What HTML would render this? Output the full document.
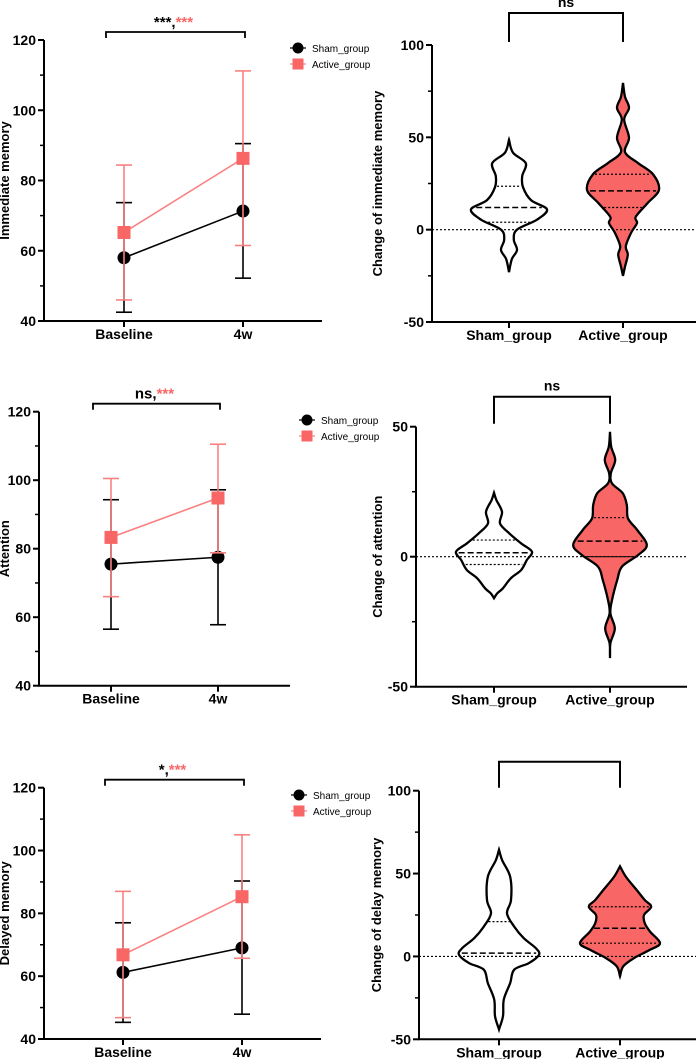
<!DOCTYPE html>
<html><head><meta charset="utf-8"><style>
html,body{margin:0;padding:0;background:#fff}
svg{display:block;font-family:"Liberation Sans",Arial,sans-serif}
</style></head><body>
<svg id="fig" width="700" height="1059" viewBox="0 0 700 1059" xmlns="http://www.w3.org/2000/svg"></svg>
<script>
// ---------- DATA ----------
const lineCategories = ["Baseline", "4w"];
const lineSeriesNames = ["Sham_group", "Active_group"];
// Immediate memory
const immShamMean = [58.0, 71.3];
const immShamLo = [42.5, 52.2];
const immShamHi = [73.7, 90.5];
const immActMean = [65.2, 86.3];
const immActLo = [46.0, 61.5];
const immActHi = [84.4, 111.2];
// Attention
const attShamMean = [75.5, 77.5];
const attShamLo = [56.5, 57.8];
const attShamHi = [94.3, 97.2];
const attActMean = [83.3, 94.8];
const attActLo = [66.0, 78.8];
const attActHi = [100.5, 110.5];
// Delayed memory
const delShamMean = [61.2, 69.0];
const delShamLo = [45.3, 47.9];
const delShamHi = [77.0, 90.3];
const delActMean = [66.8, 85.3];
const delActLo = [46.8, 65.7];
const delActHi = [87.0, 105.0];
const lineTicks = [40, 60, 80, 100, 120];

const violinCategories = ["Sham_group", "Active_group"];
// Change of immediate memory: value levels and relative density
const vImmShamVals = [48.7, 41.7, 36, 29, 23, 16, 11, 5.4, 0, -5.4, -11, -16, -23];
const vImmShamDens = [0, 0.1, 0.42, 0.33, 0.35, 0.55, 0.95, 0.7, 0.2, 0.12, 0.2, 0.07, 0];
const vImmShamQ = [4, 12, 23.5];
const vImmActVals = [79.5, 72, 66, 59.6, 49.8, 42, 36, 30, 21.6, 14.5, 7, 3.6, -1.8, -9, -13.5, -20, -25];
const vImmActDens = [0, 0.05, 0.15, 0.03, 0.15, 0.05, 0.38, 0.75, 0.9, 0.62, 0.32, 0.35, 0.2, 0.07, 0.12, 0.05, 0];
const vImmActQ = [12, 21, 30];
// Change of attention
const vAttShamVals = [24.6, 21.8, 17.3, 12.8, 9, 5.1, 1.9, -1.3, -5.1, -8.3, -12.2, -14.1, -16];
const vAttShamDens = [0, 0.06, 0.2, 0.15, 0.38, 0.68, 0.95, 0.82, 0.68, 0.42, 0.22, 0.08, 0];
const vAttShamQ = [-3, 1.5, 6.4];
const vAttActVals = [48, 42.3, 37.2, 32, 28.2, 24.4, 19.9, 14.7, 10.3, 4.5, 0.6, -3.8, -9, -16.7, -21.8, -27.6, -33.3, -39];
const vAttActDens = [0, 0.03, 0.13, 0.02, 0.05, 0.32, 0.42, 0.45, 0.68, 0.92, 0.7, 0.3, 0.18, 0.05, 0.01, 0.12, 0.01, 0];
const vAttActQ = [0, 6, 15];
// Change of delay memory
const vDelShamVals = [64.4, 58, 48, 34, 26, 18, 11, 5, 1, -4, -8, -16, -26, -36, -44];
const vDelShamDens = [0, 0.08, 0.28, 0.3, 0.2, 0.38, 0.62, 0.92, 1.0, 0.75, 0.38, 0.28, 0.12, 0.1, 0];
const vDelShamQ = [0, 2, 21];
const vDelActVals = [54.4, 48, 40, 34, 30, 25, 20, 15, 8, 4, -1, -6, -12];
const vDelActDens = [0, 0.15, 0.42, 0.62, 0.78, 0.6, 0.62, 0.75, 1.0, 0.75, 0.35, 0.08, 0];
const vDelActQ = [8, 17, 30];

// ---------- HELPERS ----------
const NS = "http://www.w3.org/2000/svg";
const svg = document.getElementById("fig");
const RED = "#f86666", RED_L = "#f98080";
function mk(tag, attrs, parent) {
  const e = document.createElementNS(NS, tag);
  for (const k in attrs) e.setAttribute(k, attrs[k]);
  (parent || svg).appendChild(e);
  return e;
}
function txt(s, attrs, parent) { const t = mk("text", attrs, parent); t.textContent = s; return t; }
function lin(d0, d1, r0, r1) { return v => r0 + (v - d0) / (d1 - d0) * (r1 - r0); }

function lineChart(o, sm, sl, sh, am, al, ah) {
  const g = mk("g", {});
  
  
  const y = lin(40, 120, o.y40, o.y120);
  const x = i => [o.xb, o.x4][i];
  const ax = mk("path", { d: `M${o.ax},${o.y120} V${o.y40} H${o.axEnd}`, stroke: "#000", "stroke-width": 2, fill: "none" }, g);
  
  
  lineTicks.forEach(t => {
    mk("line", { x1: o.ax - 6, x2: o.ax, y1: y(t), y2: y(t), stroke: "#000", "stroke-width": 2 }, g);
    const tl = txt(String(t), { x: o.ax - 8, y: y(t) + 5, "text-anchor": "end", "font-size": 14, "font-weight": "bold" }, g);
    
    
  });
  [50, 70, 90, 110].forEach(t => mk("line", { x1: o.ax - 4, x2: o.ax, y1: y(t), y2: y(t), stroke: "#000", "stroke-width": 1.5 }, g));
  lineCategories.forEach((c, i) => {
    mk("line", { x1: x(i), x2: x(i), y1: o.y40, y2: o.y40 + 6, stroke: "#000", "stroke-width": 2 }, g);
    const cl = txt(c, { x: x(i), y: o.y40 + 18, "text-anchor": "middle", "font-size": 14, "font-weight": "bold" }, g);
    
    
  });
  const yt = txt(o.title, { transform: `translate(${o.titleX},${(o.y40 + o.y120) / 2}) rotate(-90)`, "text-anchor": "middle", "font-size": 13, "font-weight": "bold" }, g);
  
  
  const bt = o.y120 - 8;
  mk("path", { d: `M${o.xb - 18},${bt + 6} V${bt} H${o.x4 + 2} V${bt + 6}`, stroke: "#000", "stroke-width": 1.8, fill: "none" }, g);
  const st = txt("", { x: (o.xb + o.x4) / 2 - 10, y: bt - 5, "text-anchor": "middle", "font-size": 15, "font-weight": "bold" }, g);
  
  
  const s1 = mk("tspan", {}, st); s1.textContent = o.sig1 + ",";
  const s2 = mk("tspan", { fill: RED }, st); s2.textContent = "***";
  function series(mean, lo, hi, col, lcol, nm) {
    const sg = mk("g", {}, g);
    
    
    mean.forEach((m, i) => {
      mk("line", { x1: x(i), x2: x(i), y1: y(lo[i]), y2: y(hi[i]), stroke: lcol, "stroke-width": 1.6 }, sg);
      mk("line", { x1: x(i) - 8, x2: x(i) + 8, y1: y(lo[i]), y2: y(lo[i]), stroke: lcol, "stroke-width": 1.6 }, sg);
      mk("line", { x1: x(i) - 8, x2: x(i) + 8, y1: y(hi[i]), y2: y(hi[i]), stroke: lcol, "stroke-width": 1.6 }, sg);
    });
    mk("line", { x1: x(0), y1: y(mean[0]), x2: x(1), y2: y(mean[1]), stroke: lcol, "stroke-width": 1.6 }, sg);
    return sg;
  }
  const sg = series(sm, sl, sh, "#000", "#000", "sham-series");
  const ag = series(am, al, ah, RED, RED_L, "active-series");
  sm.forEach((m, i) => { const c = mk("circle", { cx: x(i), cy: y(m), r: 6.5, fill: "#000" }, sg);   });
  am.forEach((m, i) => { const r = mk("rect", { x: x(i) - 6.5, y: y(m) - 6.5, width: 13, height: 13, fill: RED }, ag);   });
  const lg = mk("g", {}, g);
  
  
  mk("line", { x1: o.lgx - 8, x2: o.lgx + 8, y1: o.lgy, y2: o.lgy, stroke: "#000", "stroke-width": 1.2 }, lg);
  mk("circle", { cx: o.lgx, cy: o.lgy, r: 5.5, fill: "#000" }, lg);
  txt(lineSeriesNames[0], { x: o.lgx + 14, y: o.lgy + 4, "font-size": 10 }, lg);
  mk("line", { x1: o.lgx - 8, x2: o.lgx + 8, y1: o.lgy + 16, y2: o.lgy + 16, stroke: RED_L, "stroke-width": 1.2 }, lg);
  mk("rect", { x: o.lgx - 5.5, y: o.lgy + 10.5, width: 11, height: 11, fill: RED }, lg);
  txt(lineSeriesNames[1], { x: o.lgx + 14, y: o.lgy + 20, "font-size": 10 }, lg);
}

function smoothPath(pts) {
  let d = `M${pts[0][0]},${pts[0][1]}`;
  for (let i = 0; i < pts.length - 1; i++) {
    const p0 = pts[Math.max(0, i - 1)], p1 = pts[i], p2 = pts[i + 1], p3 = pts[Math.min(pts.length - 1, i + 2)];
    const c1 = [p1[0] + (p2[0] - p0[0]) / 6, p1[1] + (p2[1] - p0[1]) / 6];
    const c2 = [p2[0] - (p3[0] - p1[0]) / 6, p2[1] - (p3[1] - p1[1]) / 6];
    d += ` C${c1[0]},${c1[1]} ${c2[0]},${c2[1]} ${p2[0]},${p2[1]}`;
  }
  return d;
}

function violinChart(o, groups) {
  const g = mk("g", {});
  
  
  const y = lin(o.min, o.max, o.yMin, o.yMax);
  const xs = [o.xs, o.xa];
  const ax = mk("path", { d: `M${o.ax},${o.yMax} V${o.yMin} H${o.axEnd}`, stroke: "#000", "stroke-width": 2, fill: "none" }, g);
  
  
  o.ticks.forEach(t => {
    mk("line", { x1: o.ax - 6, x2: o.ax, y1: y(t), y2: y(t), stroke: "#000", "stroke-width": 2 }, g);
    const tl = txt(String(t), { x: o.ax - 8, y: y(t) + 5, "text-anchor": "end", "font-size": 14, "font-weight": "bold" }, g);
    
    
  });
  o.minor.forEach(t => mk("line", { x1: o.ax - 4, x2: o.ax, y1: y(t), y2: y(t), stroke: "#000", "stroke-width": 1.5 }, g));
  violinCategories.forEach((c, i) => {
    mk("line", { x1: xs[i], x2: xs[i], y1: o.yMin, y2: o.yMin + 6, stroke: "#000", "stroke-width": 2 }, g);
    const cl = txt(c, { x: xs[i], y: o.yMin + 18, "text-anchor": "middle", "font-size": 14, "font-weight": "bold" }, g);
    
    
  });
  const yt = txt(o.title, { transform: `translate(${o.titleX},${(o.yMin + o.yMax) / 2}) rotate(-90)`, "text-anchor": "middle", "font-size": 13, "font-weight": "bold" }, g);
  
  
  mk("path", { d: `M${o.xs},${o.yMax - 3} V${o.brY} H${o.xa} V${o.yMax - 3}`, stroke: "#000", "stroke-width": 2, fill: "none" }, g);
  if (o.sig) { const st = txt(o.sig, { x: (o.xs + o.xa) / 2, y: o.brY - 6, "text-anchor": "middle", "font-size": 14, "font-weight": "bold" }, g);   }
  groups.forEach((gr, i) => {
    const cx = xs[i];
    const right = gr.vals.map((v, k) => [cx + gr.dens[k] * o.maxW, y(v)]);
    const left = gr.vals.map((v, k) => [cx - gr.dens[k] * o.maxW, y(v)]).reverse();
    const dR = smoothPath(right);
    const dL = smoothPath(left).replace(/^M[^C]*/, " L" + left[0][0] + "," + left[0][1]);
    const vp = mk("path", { d: dR + dL + " Z", fill: i ? RED : "#fff", stroke: "#000", "stroke-width": 2.3 }, g);
    
    
    gr.q.forEach((qv, k) => {
      let w = 0;
      for (let j = 0; j < gr.vals.length - 1; j++) {
        const a = gr.vals[j], b = gr.vals[j + 1];
        if ((qv <= a && qv >= b)) { const t = (a - qv) / (a - b || 1); w = gr.dens[j] + t * (gr.dens[j + 1] - gr.dens[j]); break; }
      }
      const hw = w * o.maxW - 2;
      const ql = mk("line", { x1: cx - hw, x2: cx + hw, y1: y(qv), y2: y(qv), stroke: "#000", "stroke-width": k === 1 ? 1.5 : 1.2, "stroke-dasharray": k === 1 ? "6,3" : "2,2" }, g);
      
      
    });
  });
  const zl = mk("line", { x1: o.ax, x2: o.axEnd, y1: y(0), y2: y(0), stroke: "#000", "stroke-width": 1.2, "stroke-dasharray": "2,2" }, g);
  
  
}

// ---------- BUILD ----------
lineChart({ name: "immediate-memory-chart", ax: 44, axEnd: 322, y40: 321, y120: 40, xb: 124, x4: 243, title: "Immediate memory", titleX: 9, sig1: "***", lgx: 298, lgy: 48 },
  immShamMean, immShamLo, immShamHi, immActMean, immActLo, immActHi);
lineChart({ name: "attention-chart", ax: 39, axEnd: 290, y40: 685.7, y120: 411.7, xb: 111, x4: 218, title: "Attention", titleX: 9, sig1: "ns", lgx: 307, lgy: 420 },
  attShamMean, attShamLo, attShamHi, attActMean, attActLo, attActHi);
lineChart({ name: "delayed-memory-chart", ax: 44, axEnd: 321, y40: 1039, y120: 787.7, xb: 123, x4: 242, title: "Delayed memory", titleX: 9, sig1: "*", lgx: 299, lgy: 795 },
  delShamMean, delShamLo, delShamHi, delActMean, delActLo, delActHi);

violinChart({ name: "change-immediate-memory-chart", ax: 432, axEnd: 696, min: -50, max: 100, yMin: 322, yMax: 45, xs: 509, xa: 623, maxW: 40, ticks: [-50, 0, 50, 100], minor: [-25, 25, 75], title: "Change of immediate memory", titleX: 382, brY: 13, sig: "ns" },
  [{ vals: vImmShamVals, dens: vImmShamDens, q: vImmShamQ }, { vals: vImmActVals, dens: vImmActDens, q: vImmActQ }]);
violinChart({ name: "change-attention-chart", ax: 416, axEnd: 687, min: -50, max: 50, yMin: 686.7, yMax: 426.7, xs: 494, xa: 610, maxW: 40, ticks: [-50, 0, 50], minor: [-25, 25], title: "Change of attention", titleX: 382, brY: 396.7, sig: "ns" },
  [{ vals: vAttShamVals, dens: vAttShamDens, q: vAttShamQ }, { vals: vAttActVals, dens: vAttActDens, q: vAttActQ }]);
violinChart({ name: "change-delay-memory-chart", ax: 419, axEnd: 696, min: -50, max: 100, yMin: 1039.3, yMax: 790.7, xs: 499, xa: 620, maxW: 40, ticks: [-50, 0, 50, 100], minor: [-25, 25, 75], title: "Change of delay memory", titleX: 381, brY: 761.7, sig: "" },
  [{ vals: vDelShamVals, dens: vDelShamDens, q: vDelShamQ }, { vals: vDelActVals, dens: vDelActDens, q: vDelActQ }]);
</script>
</body></html>
